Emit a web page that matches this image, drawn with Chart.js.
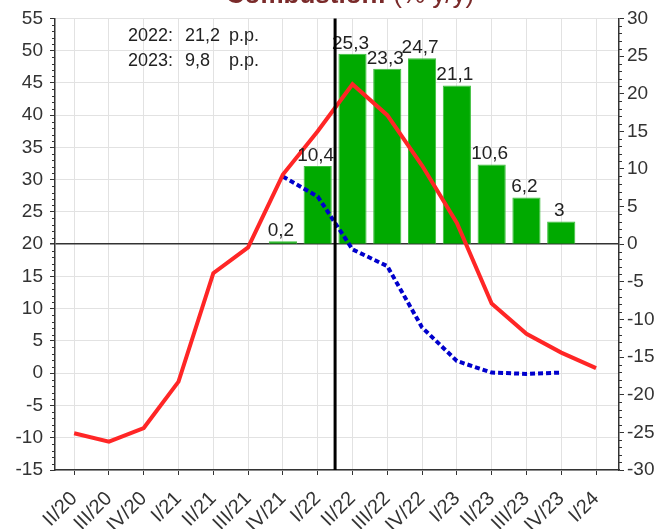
<!DOCTYPE html>
<html>
<head>
<meta charset="utf-8">
<script src="https://cdn.jsdelivr.net/npm/chart.js@4/dist/chart.umd.min.js"></script>
<style>
  html, body { margin: 0; padding: 0; background: #fff; }
  canvas { display: block; }
</style>
</head>
<body>
<canvas id="chart" width="660" height="529"></canvas>
<script>
// data
const quarters = ['II/20', 'III/20', 'IV/20', 'I/21', 'II/21', 'III/21', 'IV/21', 'I/22',
                  'II/22', 'III/22', 'IV/22', 'I/23', 'II/23', 'III/23', 'IV/23', 'I/24'];
const redSeries  = [-9.3, -10.6, -8.5, -1.3, 15.5, 19.5, 30.8, 37.5, 44.8, 40.0, 32.2, 23.3, 10.8, 6.1, 3.2, 0.8];
const blueSeries = [null, null, null, null, null, null, 30.5, 27.4, 19.2, 16.6, 7.1, 1.9, 0.1, -0.1, 0.1, null];
const barSeries  = [null, null, null, null, null, null, 0.2, 10.4, 25.3, 23.3, 24.7, 21.1, 10.6, 6.2, 3, null];
const leftRange  = [-15, 55];
const rightRange = [-30, 30];
const splitAfter = 'I/22';
const notes = [['2022:', '21,2', 'p.p.'], ['2023:', '9,8', 'p.p.']];
const titleParts = ['Combustion:', '(% y/y)'];

const FONT = "'Liberation Sans', Arial, sans-serif";

// category scale with a bit more room at the ends than offset:true gives
class PaddedCategoryScale extends Chart.CategoryScale {
  configure() {
    super.configure();
    this._startValue = this.min - 0.55;
    this._valueRange = (this.max - this.min) + 0.55 + 0.66;
  }
}
PaddedCategoryScale.id = 'paddedCategory';
PaddedCategoryScale.defaults = Chart.CategoryScale.defaults;
Chart.register(PaddedCategoryScale);

const minorTicks = {
  id: 'minorTicks',
  afterDraw(chart) {
    const ctx = chart.ctx;
    ctx.save();
    ctx.strokeStyle = '#333';
    ctx.lineWidth = 1;
    ['y', 'y1'].forEach(id => {
      const s = chart.scales[id];
      for (let v = s.min; v <= s.max; v++) {
        if (v % 5 === 0) continue;
        const py = Math.round(s.getPixelForValue(v)) + 0.5;
        ctx.beginPath();
        if (id === 'y') { ctx.moveTo(s.right - 3, py); ctx.lineTo(s.right, py); }
        else { ctx.moveTo(s.left, py); ctx.lineTo(s.left + 3, py); }
        ctx.stroke();
      }
    });
    ctx.restore();
  }
};

const barLabels = {
  id: 'barLabels',
  afterDatasetsDraw(chart) {
    const ctx = chart.ctx;
    const meta = chart.getDatasetMeta(2);
    ctx.save();
    ctx.font = '19px ' + FONT;
    ctx.fillStyle = '#222';
    ctx.textAlign = 'center';
    ctx.textBaseline = 'bottom';
    meta.data.forEach((bar, i) => {
      if (barSeries[i] == null) return;
      ctx.fillText(String(barSeries[i]).replace('.', ','), bar.x - 2, bar.y - 1);
    });
    ctx.restore();
  }
};

const extras = {
  id: 'extras',
  afterDraw(chart) {
    const ctx = chart.ctx;
    const area = chart.chartArea;
    const x = chart.scales.x;
    const i = quarters.indexOf(splitAfter);
    const px = (x.getPixelForValue(i) + x.getPixelForValue(i + 1)) / 2;
    ctx.save();
    // split line
    ctx.strokeStyle = '#000';
    ctx.lineWidth = 3;
    ctx.beginPath();
    ctx.moveTo(px, area.top);
    ctx.lineTo(px, area.bottom);
    ctx.stroke();

    // notes in the top-left corner
    ctx.font = '18px ' + FONT;
    ctx.fillStyle = '#222';
    ctx.textBaseline = 'middle';
    ctx.textAlign = 'left';
    const cols = [area.left + 73, area.left + 130, area.left + 174];
    notes.forEach((row, r) => {
      row.forEach((t, c) => ctx.fillText(t, cols[c], area.top + 18 + r * 25));
    });

    // title, mostly cut off by the top edge
    ctx.fillStyle = '#7a2a2a';
    ctx.textBaseline = 'alphabetic';
    ctx.font = 'bold 26px ' + FONT;
    const w1 = ctx.measureText(titleParts[0] + ' ').width;
    ctx.font = '26px ' + FONT;
    const w2 = ctx.measureText(titleParts[1]).width;
    const start = 350 - (w1 + w2) / 2;
    ctx.font = 'bold 26px ' + FONT;
    ctx.fillText(titleParts[0], start, 3);
    ctx.font = '26px ' + FONT;
    ctx.fillText(titleParts[1], start + w1, 3);
    ctx.restore();
  }
};

new Chart(document.getElementById('chart'), {
  type: 'bar',
  data: {
    labels: quarters,
    datasets: [
      {
        type: 'line',
        data: redSeries,
        yAxisID: 'y',
        borderColor: '#ff2626',
        borderWidth: 4,
        pointRadius: 0,
        tension: 0,
        order: 1
      },
      {
        type: 'line',
        data: blueSeries,
        yAxisID: 'y',
        borderColor: '#0000cc',
        borderWidth: 4,
        borderDash: [5, 3],
        pointRadius: 0,
        tension: 0,
        order: 2
      },
      {
        type: 'bar',
        data: barSeries,
        yAxisID: 'y1',
        backgroundColor: '#00aa00',
        borderColor: '#3cbf3c',
        borderWidth: 1,
        minBarLength: 3,
        barPercentage: 0.81,
        categoryPercentage: 1,
        order: 3
      }
    ]
  },
  options: {
    responsive: false,
    animation: false,
    devicePixelRatio: 1,
    layout: { padding: { top: 17, left: 0, right: 0, bottom: 0 } },
    plugins: {
      legend: { display: false },
      tooltip: { enabled: false }
    },
    scales: {
      x: {
        type: 'paddedCategory',
        offset: false,
        grid: { color: '#e2e2e2', lineWidth: 1, tickColor: '#333', tickLength: 5, offset: false },
        border: { color: '#333', width: 1.5 },
        ticks: {
          color: '#333',
          font: { family: FONT, size: 20 },
          maxRotation: 45,
          minRotation: 45,
          autoSkip: false,
          padding: 12
        },
        afterFit(s) { s.height = 59; }
      },
      y: {
        position: 'left',
        min: leftRange[0],
        max: leftRange[1],
        grid: {
          color: c => c.tick && c.tick.value === 20 ? '#333' : '#e2e2e2',
          lineWidth: c => c.tick && c.tick.value === 20 ? 1.5 : 1,
          tickColor: '#333',
          tickLength: 5
        },
        border: { color: '#333', width: 1.5 },
        ticks: {
          stepSize: 5,
          color: '#333',
          font: { family: FONT, size: 19 },
          padding: 7
        },
        afterFit(s) { s.width = 55; }
      },
      y1: {
        position: 'right',
        min: rightRange[0],
        max: rightRange[1],
        grid: { drawOnChartArea: false, tickColor: '#333', tickLength: 5 },
        border: { color: '#333', width: 1.5 },
        ticks: {
          stepSize: 5,
          color: '#333',
          font: { family: FONT, size: 19 },
          padding: 3
        },
        afterFit(s) { s.width = 41; }
      }
    }
  },
  plugins: [minorTicks, barLabels, extras]
});
</script>
</body>
</html>
